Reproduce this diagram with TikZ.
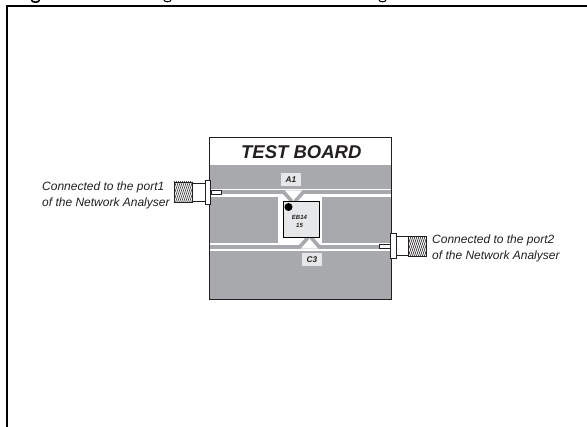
\documentclass[tikz,border=0pt]{standalone}
\usepackage{fontspec}
\setmainfont{Liberation Sans}
\definecolor{pcb}{HTML}{A7A9AC}
\definecolor{chipfill}{HTML}{E6E7E8}
\definecolor{ink}{HTML}{231F20}
\tikzset{
  x=1pt,y=-1pt,
  frameline/.style={line width=2pt,black},
  boardout/.style={draw=ink,line width=0.7pt},
  conn/.style={draw=ink,line width=0.7pt,fill=white},
  grey/.style={fill=pcb,draw=none},
  whitefill/.style={fill=white,draw=none},
  diag/.style={draw=pcb,line width=3.6pt},
  lbl/.style={font=\itshape\fontsize{12}{16.3}\selectfont,text=ink,align=left,inner sep=0pt},
  tag/.style={fill=chipfill,font=\bfseries\itshape\fontsize{8.3}{9}\selectfont,text=ink,inner sep=0pt,minimum width=20pt,minimum height=13pt},
  hatchbox/.style={draw=ink,line width=0.7pt,minimum width=18pt,minimum height=20pt,inner sep=0pt,
    path picture={\foreach \k in {-28,-26,...,24}{\draw[ink,line width=0.6pt] (\k pt,-12pt) -- ++(8pt,24pt);}}},
}
\begin{document}
\begin{tikzpicture}
\useasboundingbox (0,0) rectangle (587,427);
% outer frame
\draw[frameline] (7,427) -- (7,6) -- (587,6);
% clipped descenders of the cropped title line
\draw[line width=1.6pt,black] (31.5,0) arc[start angle=180,end angle=360,x radius=4,y radius=-2.2];
\draw[line width=1pt,black] (164,0) arc[start angle=180,end angle=360,x radius=3.5,y radius=-1.8];
\draw[line width=1pt,black] (379,0) arc[start angle=180,end angle=360,x radius=3.5,y radius=-1.8];
% board
\fill[white] (209,137.5) rectangle (391,299);
\fill[grey] (209,165) rectangle (391,299);
% traces: white clearance
\fill[whitefill] (209,189) rectangle (391,197);
\fill[whitefill] (209,242.7) rectangle (391,251);
\fill[whitefill] (278,197) rectangle (322,242.7);
% traces: grey lines
\fill[grey] (209,190.3) rectangle (391,194.5);
\fill[grey] (209,245) rectangle (391,248.7);
% white notches and diagonal stubs
\fill[whitefill] (284,190.3) -- (303,190.3) -- (293.5,201) -- cycle;
\fill[whitefill] (300,248.7) -- (319,248.7) -- (309.5,238) -- cycle;
\begin{scope}
\clip (270,190.3) rectangle (330,201);
\draw[diag] (281,189) -- (292,201.5);
\draw[diag] (306,189) -- (295,201.5);
\end{scope}
\begin{scope}
\clip (290,238) rectangle (330,248.7);
\draw[diag] (297,250) -- (308,237.5);
\draw[diag] (322,250) -- (311,237.5);
\end{scope}
\draw[boardout] (209,137.5) rectangle (391,299);
% chip
\node[draw=black,line width=0.9pt,fill=chipfill,minimum width=36.5pt,minimum height=36.5pt,inner sep=0pt,anchor=north west] (chip) at (282.5,201) {};
\fill[black] (288.5,207) circle[radius=4];
\node[font=\bfseries\itshape\fontsize{6}{7.5}\selectfont,text=ink,align=center,inner sep=0pt] (chiptext) at (299.5,221.3) {EB14\\15};
% title and tags
\node[font=\bfseries\itshape\fontsize{18.5}{20}\selectfont,text=ink,inner sep=0pt] (title) at (301.3,152) {TEST BOARD};
\node[tag] (a1) at (291,179.2) {A1};
\node[tag] (c3) at (312,259.7) {C3};
% left connector
\draw[conn] (211,190.2) rectangle (221.5,194.3);
\draw[conn] (192,183.3) rectangle (205,201.7);
\node[hatchbox] (lconn) at (183,192) {};
\draw[conn] (205,180) rectangle (210.3,204.7);
% right connector
\draw[conn] (379.5,244.3) rectangle (391,248.3);
\draw[conn] (396,236.7) rectangle (408.5,255.7);
\node[hatchbox] (rconn) at (417.7,246.2) {};
\draw[conn] (390.7,233.5) rectangle (396.2,258.7);
% labels
\node[lbl,anchor=west] (leftlbl) at (42,195.7) {Connected to the port1\\of the Network Analyser};
\node[lbl,anchor=west] (rightlbl) at (432,248.3) {Connected to the port2\\of the Network Analyser};
\end{tikzpicture}
\end{document}
